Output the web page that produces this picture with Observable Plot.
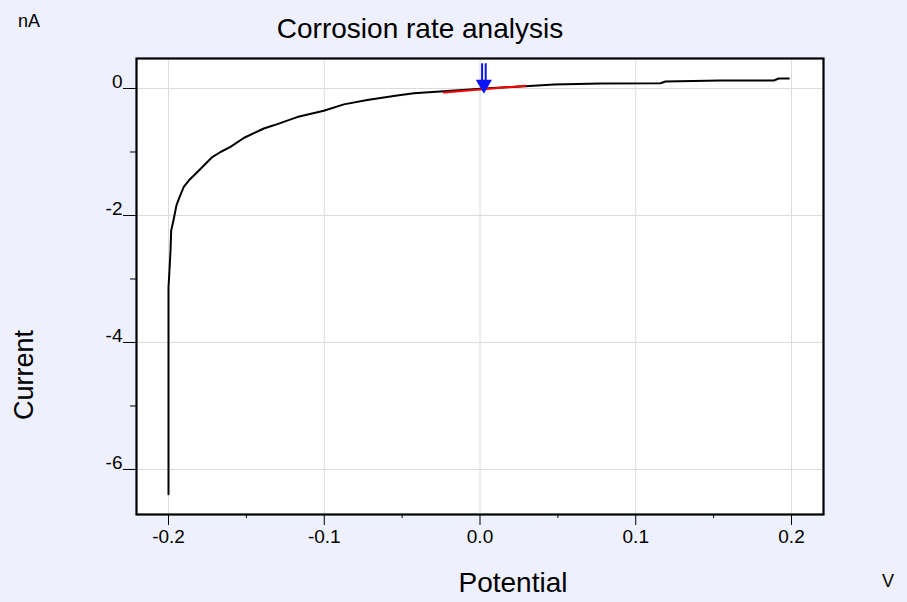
<!DOCTYPE html>
<html>
<head>
<meta charset="utf-8">
<script src="https://cdn.jsdelivr.net/npm/d3@7"></script>
<script src="https://cdn.jsdelivr.net/npm/@observablehq/plot@0.6"></script>
<style>
  html, body { margin: 0; padding: 0; background: #eef0fd; }
  #chart { width: 907px; height: 602px; }
</style>
</head>
<body>
<div id="chart"></div>
<script>
// Polarization curve (Potential in V, Current in nA)
const potential = [-0.2, -0.2, -0.1994, -0.1987, -0.1983, -0.1966, -0.1949, -0.1929, -0.1902, -0.1870,
  -0.1816, -0.1784, -0.1719, -0.1666, -0.1602, -0.1517, -0.1388, -0.1324, -0.1174, -0.1003,
  -0.0874, -0.0724, -0.0532, -0.0425, -0.0232, 0.0003, 0.0292, 0.0474, 0.0774, 0.1159,
  0.1191, 0.1544, 0.1886, 0.1918, 0.1983];
const current = [-6.39, -3.13, -2.87, -2.55, -2.24, -2.05, -1.84, -1.71, -1.55, -1.45,
  -1.32, -1.24, -1.08, -1.00, -0.92, -0.78, -0.63, -0.58, -0.45, -0.35,
  -0.25, -0.18, -0.11, -0.074, -0.043, -0.005, 0.036, 0.063, 0.079, 0.083,
  0.110, 0.126, 0.126, 0.157, 0.157];

// Linear fit segment (red)
const fitPotential = [-0.0232, 0.0292];
const fitCurrent = [-0.063, 0.0425];

// Corrosion potential marker (blue arrow)
const ecorr = [0.0025];

const xMajor = [-0.2, -0.1, 0.0, 0.1, 0.2];
const xMinor = [-0.15, -0.05, 0.05, 0.15];
const yMajor = [0, -2, -4, -6];
const yMinor = [-1, -3, -5];

const curve = potential.map((p, i) => ({p, c: current[i]}));
const fit = fitPotential.map((p, i) => ({p, c: fitCurrent[i]}));

const blue = "#0a14f5";

const plot = Plot.plot({
  width: 907,
  height: 602,
  marginLeft: 136,
  marginRight: 84,
  marginTop: 58,
  marginBottom: 88,
  style: {background: "#eef0fd", fontFamily: "'Liberation Sans', Arial, sans-serif", color: "black", overflow: "visible"},
  x: {domain: [-0.22055, 0.22055]},
  y: {domain: [-6.709, 0.4724]},
  marks: [
    Plot.frame({fill: "white", stroke: null}),
    Plot.gridX(xMajor, {stroke: "#dcdcdc", strokeOpacity: 1, strokeWidth: 1}),
    Plot.gridY(yMajor, {stroke: "#dcdcdc", strokeOpacity: 1, strokeWidth: 1}),
    Plot.axisX(xMajor, {tickSize: 11, tickPadding: 4, tickFormat: d => d.toFixed(1), fontSize: 19, label: null, strokeWidth: 1}),
    Plot.axisX(xMinor, {tickSize: 4, text: null, label: null}),
    Plot.axisY(yMajor, {tickSize: 13, tickPadding: 1, lineAnchor: "bottom", tickFormat: d => String(d), fontSize: 19, label: null}),
    Plot.axisY(yMinor, {tickSize: 6, text: null, label: null}),
    Plot.line(curve, {x: "p", y: "c", stroke: "black", strokeWidth: 2}),
    Plot.line(fit, {x: "p", y: "c", stroke: "#ff0000", strokeWidth: 2}),
    Plot.ruleX(ecorr, {y1: 0.39, y2: 0.1, dx: -1.8, stroke: blue, strokeWidth: 2}),
    Plot.ruleX(ecorr, {y1: 0.39, y2: 0.1, dx: 1.8, stroke: blue, strokeWidth: 2}),
    Plot.dot(ecorr, {x: d => d, y: 0.065, symbol: "triangle", rotate: 180, r: 6, fill: blue, stroke: null}),
    Plot.frame({stroke: "black", strokeWidth: 2.2})
  ]
});

const svg = d3.select(plot);
const ff = "'Liberation Sans', Arial, sans-serif";
svg.append("text").attr("x", 420).attr("y", 38).attr("text-anchor", "middle")
  .attr("font-size", 28).attr("font-family", ff).attr("fill", "black").text("Corrosion rate analysis");
svg.append("text").attr("x", 18).attr("y", 27).attr("text-anchor", "start")
  .attr("font-size", 18).attr("font-family", ff).attr("fill", "black").text("nA");
svg.append("text").attr("transform", "translate(33,375) rotate(-90)").attr("text-anchor", "middle")
  .attr("font-size", 27).attr("font-family", ff).attr("fill", "black").text("Current");
svg.append("text").attr("x", 513).attr("y", 592).attr("text-anchor", "middle")
  .attr("font-size", 28).attr("font-family", ff).attr("fill", "black").text("Potential");
svg.append("text").attr("x", 888).attr("y", 587).attr("text-anchor", "middle")
  .attr("font-size", 18).attr("font-family", ff).attr("fill", "black").text("V");

document.getElementById("chart").appendChild(plot);
</script>
</body>
</html>
